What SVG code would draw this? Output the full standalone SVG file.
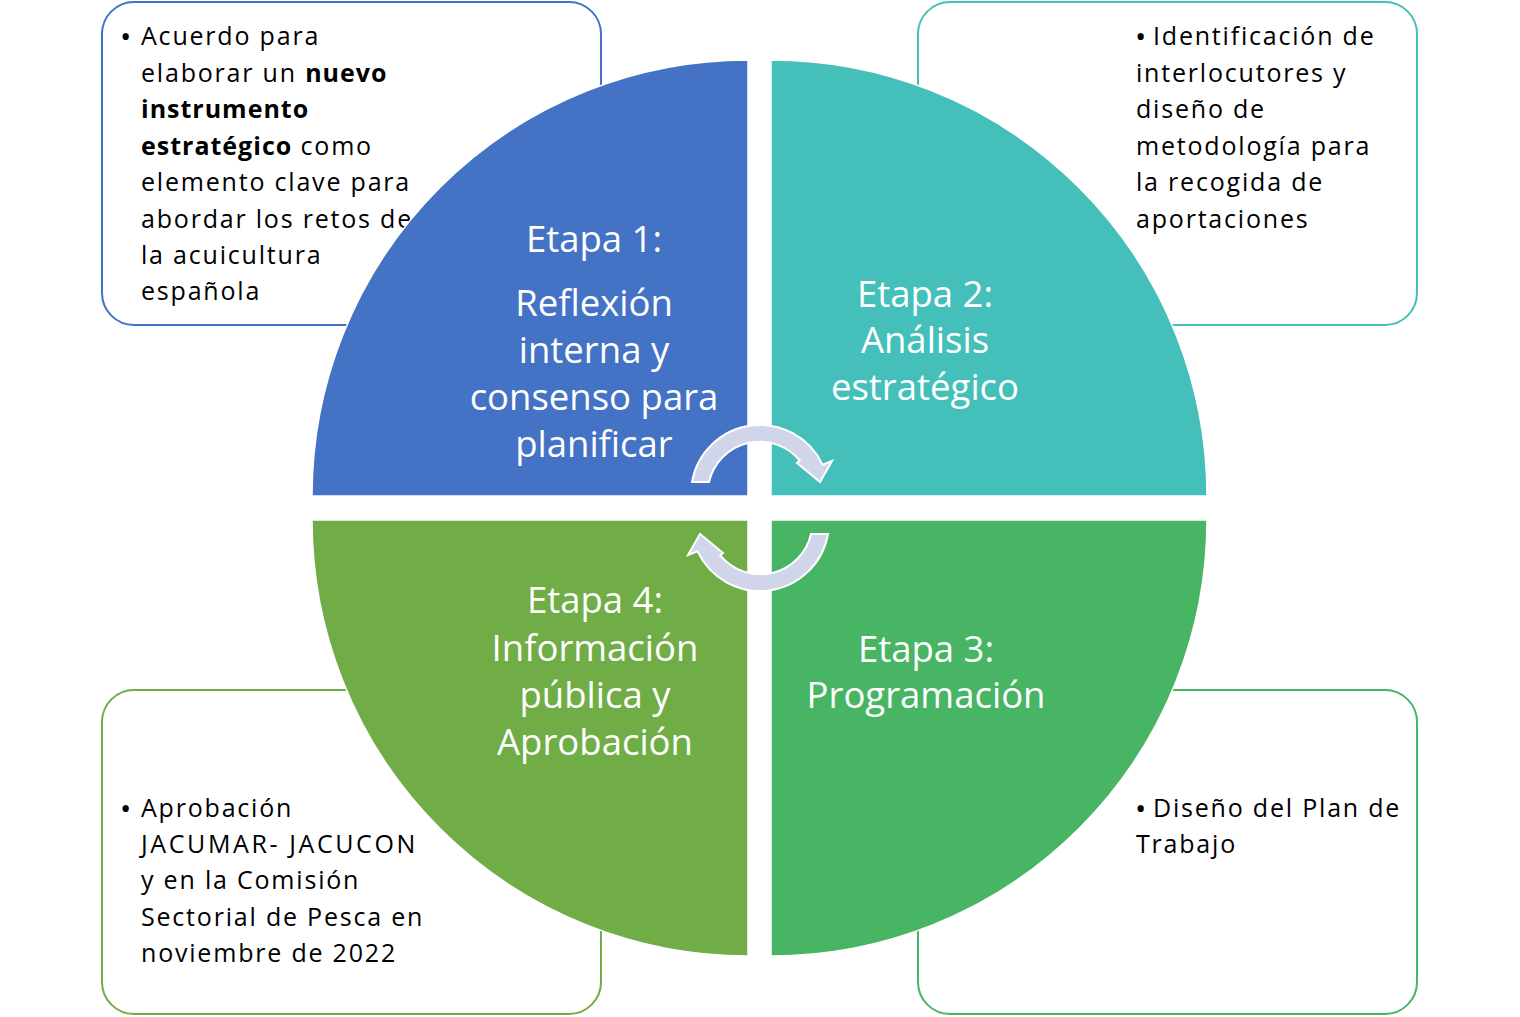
<svg xmlns="http://www.w3.org/2000/svg" width="1520" height="1017" viewBox="0 0 1520 1017">
<style>
.box{fill:#ffffff;stroke-width:2}
.txt{font-family:"Open Sans","Noto Sans",sans-serif;font-size:25px;fill:#000000;letter-spacing:1.8px}
.b{font-weight:bold;letter-spacing:1px}
.bul{font-size:30px;letter-spacing:0}
.q{stroke:#ffffff;stroke-width:1.5}
.lbl{font-family:"Open Sans","Noto Sans",sans-serif;font-size:36.5px;fill:#ffffff;text-anchor:middle}
.arr{fill:#D0D5E9;stroke:#ffffff;stroke-width:2;stroke-linejoin:miter}
</style>
<rect width="1520" height="1017" fill="#ffffff"/>
<g id="box1">
<rect class="box" x="102" y="2" width="499" height="323" rx="32" stroke="#4472C4"/>
<text class="txt"><tspan class="bul" x="120" y="47">•</tspan><tspan x="141" y="45">Acuerdo para</tspan><tspan x="141" y="82">elaborar un <tspan class="b">nuevo</tspan></tspan><tspan x="141" y="118" class="b">instrumento</tspan><tspan x="141" y="155"><tspan class="b">estratégico</tspan> como</tspan><tspan x="141" y="191">elemento clave para</tspan><tspan x="141" y="228">abordar los retos de</tspan><tspan x="141" y="264">la acuicultura</tspan><tspan x="141" y="300">española</tspan></text>
</g>
<g id="box2">
<rect class="box" x="918" y="2" width="499" height="323" rx="32" stroke="#45BFB9"/>
<text class="txt"><tspan class="bul" x="1135" y="47">•</tspan><tspan x="1153" y="45">Identificación de</tspan><tspan x="1136" y="82">interlocutores y</tspan><tspan x="1136" y="118">diseño de</tspan><tspan x="1136" y="155">metodología para</tspan><tspan x="1136" y="191">la recogida de</tspan><tspan x="1136" y="228">aportaciones</tspan></text>
</g>
<g id="box4">
<rect class="box" x="102" y="690" width="499" height="324" rx="32" stroke="#70AD47"/>
<text class="txt"><tspan class="bul" x="120" y="819">•</tspan><tspan x="141" y="817">Aprobación</tspan><tspan x="141" y="853" style="letter-spacing:2.6px">JACUMAR- JACUCON</tspan><tspan x="141" y="889">y en la Comisión</tspan><tspan x="141" y="926">Sectorial de Pesca en</tspan><tspan x="141" y="962">noviembre de 2022</tspan></text>
</g>
<g id="box3">
<rect class="box" x="918" y="690" width="499" height="324" rx="32" stroke="#47B563"/>
<text class="txt"><tspan class="bul" x="1135" y="819">•</tspan><tspan x="1153" y="817">Diseño del Plan de</tspan><tspan x="1136" y="853">Trabajo</tspan></text>
</g>
<g id="stage1">
<path class="q" d="M748,496 L312,496 A436,436 0 0 1 748,60 Z" fill="#4472C4"/>
<text class="lbl"><tspan x="594" y="252">Etapa 1:</tspan><tspan x="594" y="316">Reflexión</tspan><tspan x="594" y="363">interna y</tspan><tspan x="594" y="410">consenso para</tspan><tspan x="594" y="457">planificar</tspan></text>
</g>
<g id="stage2">
<path class="q" d="M771,496 L771,60 A436,436 0 0 1 1207,496 Z" fill="#45BFB9"/>
<text class="lbl"><tspan x="925" y="307">Etapa 2:</tspan><tspan x="925" y="353">Análisis</tspan><tspan x="925" y="400">estratégico</tspan></text>
</g>
<g id="stage3">
<path class="q" d="M771,520 L1207,520 A436,436 0 0 1 771,956 Z" fill="#47B563"/>
<text class="lbl"><tspan x="926" y="662">Etapa 3:</tspan><tspan x="926" y="708">Programación</tspan></text>
</g>
<g id="stage4">
<path class="q" d="M748,520 L748,956 A436,436 0 0 1 312,520 Z" fill="#70AD47"/>
<text class="lbl"><tspan x="595" y="613">Etapa 4:</tspan><tspan x="595" y="661">Información</tspan><tspan x="595" y="708">pública y</tspan><tspan x="595" y="755">Aprobación</tspan></text>
</g>
<g id="connectors">
<path id="arrowTop" class="arr" d="M692,482 A69,69 0 0 1 822.5,464.8 L832,461 L820,482 L797,463 L799.8,460.6 A52,52 0 0 0 709,482 Z"/>
<path id="arrowBottom" class="arr" transform="rotate(180 760 508)" d="M692,482 A69,69 0 0 1 822.5,464.8 L832,461 L820,482 L797,463 L799.8,460.6 A52,52 0 0 0 709,482 Z"/>
</g>
</svg>
